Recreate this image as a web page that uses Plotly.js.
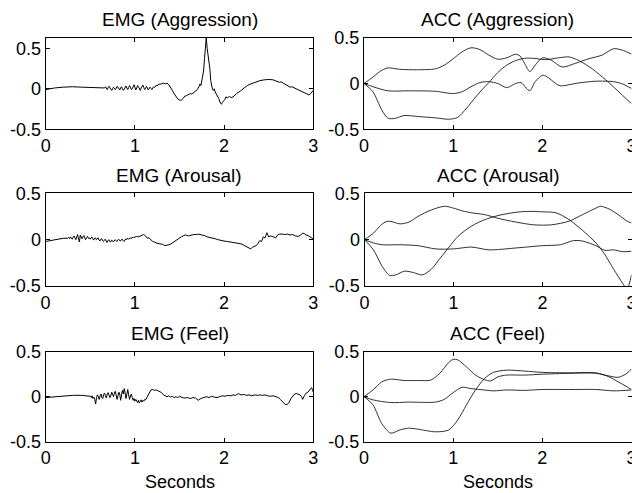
<!DOCTYPE html>
<html><head><meta charset="utf-8">
<script src="https://cdn.plot.ly/plotly-3.0.1.min.js"></script>
<style>html,body{margin:0;padding:0;background:#fff}#chart{width:632px;height:493px}</style>
</head><body><div id="chart"></div>
<script>
// ---------------- DATA ----------------
const xTicks = [0, 1, 2, 3];
const yTickVals = [-0.5, 0, 0.5];
const yTickText = ['-0.5', '0', '0.5'];
const panelTitles = ['EMG (Aggression)', 'ACC (Aggression)', 'EMG (Arousal)', 'ACC (Arousal)', 'EMG (Feel)', 'ACC (Feel)'];
const xLabel = 'Seconds';

// EMG (Aggression)
const emgAggT = [0,0.05,0.1,0.2,0.3,0.4,0.5,0.6,0.65,
0.66,0.67,0.68,0.69,0.70,0.71,0.72,0.73,0.74,0.75,0.76,0.77,0.78,0.79,0.80,0.81,0.82,0.83,0.84,0.85,0.86,0.87,0.88,0.89,0.90,0.91,0.92,0.93,0.94,0.95,0.96,0.97,0.98,0.99,1.00,1.01,1.02,1.03,1.04,1.05,1.06,1.07,1.08,1.09,1.10,1.11,1.12,1.13,1.14,1.15,1.16,1.17,1.18,1.19,1.20,1.21,1.22,1.23,1.24,1.25,1.26,1.27,1.28,
1.30,1.32,1.34,1.36,1.38,1.40,1.42,1.44,1.46,1.48,1.50,1.52,1.54,1.56,1.58,1.60,1.62,1.64,1.66,1.68,1.70,1.72,1.73,1.74,1.75,1.76,1.77,1.78,1.79,1.80,1.81,1.82,1.83,1.84,1.85,1.86,1.87,1.88,1.89,1.90,1.92,1.94,1.96,1.97,1.98,2.00,2.01,2.02,2.04,2.06,2.08,2.10,2.12,2.14,2.18,2.22,2.26,2.30,2.35,2.40,2.45,2.50,2.55,2.60,2.62,2.64,2.66,2.68,2.70,2.72,2.74,2.76,2.80,2.84,2.88,2.92,2.95,2.97,3.0];
const emgAggY = [-0.01,0.0,0.01,0.02,0.025,0.02,0.015,0.012,0.01,
0.01,0.025,0.005,-0.01,0.015,0.03,0.01,-0.005,-0.02,0.0,
0.02,0.01,-0.01,0.005,0.03,0.02,-0.005,-0.015,0.01,0.025,
0.0,-0.02,-0.005,0.02,0.035,0.01,-0.01,0.015,0.04,0.02,
-0.01,0.0,0.03,0.05,0.02,-0.015,0.01,0.04,0.025,-0.005,
-0.02,0.01,0.035,0.045,0.015,-0.01,0.005,0.03,0.01,-0.015,
0.0,0.02,0.005,-0.01,0.01,0.025,0.015,0.03,0.045,0.035,
0.05,0.06,0.055,
0.065,0.07,0.06,0.07,0.05,0.02,-0.02,-0.06,-0.1,-0.125,-0.14,-0.14,-0.12,-0.09,-0.085,-0.07,-0.06,-0.065,-0.045,-0.03,-0.01,0.03,0.06,0.04,0.1,0.14,0.22,0.37,0.52,0.63,0.5,0.42,0.39,0.25,0.1,0.03,-0.01,-0.02,0.0,-0.04,-0.08,-0.12,-0.18,-0.19,-0.17,-0.145,-0.13,-0.1,-0.11,-0.095,-0.11,-0.1,-0.075,-0.06,-0.03,0.01,0.04,0.06,0.08,0.1,0.11,0.115,0.11,0.09,0.08,0.085,0.07,0.06,0.05,0.03,0.02,0.025,0.005,-0.015,-0.035,-0.06,-0.075,-0.06,-0.02];

// EMG (Arousal)
const emgAroT = [0,0.03,0.06,0.1,0.15,0.2,0.24,
0.25,0.26,0.27,0.28,0.29,0.30,0.31,0.32,0.33,0.34,0.35,0.36,0.37,0.38,0.39,0.40,0.41,0.42,0.43,0.44,0.45,0.46,0.47,0.48,0.49,0.50,0.51,0.52,0.53,0.54,0.55,0.56,0.57,0.58,0.59,0.60,0.61,0.62,0.63,0.64,0.65,0.66,0.67,0.68,0.69,0.70,0.71,0.72,0.73,0.74,0.75,0.76,0.77,0.78,0.79,0.80,0.81,0.82,0.83,0.84,0.85,0.86,0.87,0.88,0.89,0.90,0.91,0.92,0.93,0.94,0.95,0.96,0.97,0.98,0.99,1.00,
1.02,1.04,1.06,1.08,1.10,1.12,1.14,1.16,1.18,1.20,1.22,1.25,1.28,1.31,1.34,1.36,1.38,1.40,1.43,1.46,1.49,1.52,1.55,1.57,1.60,1.63,1.66,1.69,1.72,1.75,1.78,1.81,1.84,1.87,1.90,1.93,1.96,2.0,2.04,2.08,2.12,2.16,2.19,2.22,2.25,2.28,2.30,2.32,2.34,2.36,2.38,2.40,2.42,2.44,2.46,2.48,2.50,2.52,2.54,2.56,2.58,2.60,2.62,2.65,2.68,2.71,2.74,2.77,2.80,2.83,2.86,2.88,2.90,2.92,2.95,2.98,3.0];
const emgAroY = [-0.02,-0.015,-0.005,0.0,0.01,0.015,0.015,
0.015,0.025,0.01,0.03,0.02,0.005,0.025,0.04,0.02,0.0,
0.03,0.055,0.01,-0.025,0.05,0.035,0.01,0.03,0.045,0.02,
0.0,0.025,0.035,0.015,0.02,0.005,0.025,0.03,0.01,-0.005,
0.015,0.02,0.0,0.01,0.02,-0.005,-0.015,0.005,0.01,-0.01,
-0.02,-0.005,0.005,-0.015,-0.03,-0.01,0.0,-0.02,-0.025,-0.005,
-0.01,-0.025,-0.015,0.0,-0.01,-0.02,-0.005,0.005,-0.01,-0.015,
0.0,0.005,-0.01,-0.02,-0.005,0.01,0.0,0.015,0.005,0.01,
0.02,0.01,0.025,0.02,0.03,0.025,
0.035,0.03,0.04,0.045,0.055,0.04,0.015,0.02,0.0,-0.02,-0.025,-0.04,-0.045,-0.05,-0.065,-0.06,-0.055,-0.05,-0.03,-0.01,0.015,0.03,0.045,0.05,0.04,0.05,0.055,0.055,0.06,0.05,0.045,0.03,0.025,0.015,0.01,0.0,-0.01,-0.015,-0.02,-0.025,-0.03,-0.04,-0.045,-0.06,-0.075,-0.09,-0.1,-0.08,-0.075,-0.065,-0.04,-0.01,-0.02,0.03,0.02,0.075,0.03,0.04,0.035,0.025,0.02,0.05,0.06,0.06,0.055,0.06,0.05,0.055,0.04,0.035,0.05,0.07,0.065,0.05,0.04,0.02,0.005];

// EMG (Feel)
const emgFeelT = [0,0.05,0.1,0.2,0.3,0.4,0.45,0.48,
0.50,0.51,0.52,0.53,0.54,0.55,0.56,0.57,0.58,0.59,0.60,0.61,0.62,0.63,0.64,0.65,0.66,0.67,0.68,0.69,0.70,0.71,0.72,0.73,0.74,0.75,0.76,0.77,0.78,0.79,0.80,0.81,0.82,0.83,0.84,0.85,0.86,0.87,0.88,0.89,0.90,0.91,0.92,0.93,0.94,0.95,0.96,0.97,0.98,0.99,1.00,1.01,1.02,1.03,1.04,1.05,1.06,1.07,1.08,1.09,1.10,1.11,1.12,1.13,1.14,
1.16,1.18,1.20,1.22,1.24,1.26,1.28,1.30,1.32,1.34,1.36,1.38,1.40,1.42,1.44,1.46,1.48,1.50,1.53,1.56,1.59,1.62,1.65,1.68,1.71,1.74,1.77,1.80,1.83,1.86,1.89,1.92,1.95,1.98,2.01,2.04,2.07,2.10,2.13,2.16,2.19,2.22,2.25,2.28,2.31,2.34,2.37,2.40,2.43,2.46,2.49,2.52,2.55,2.58,2.61,2.63,2.65,2.67,2.69,2.71,2.73,2.75,2.77,2.79,2.81,2.83,2.85,2.87,2.88,2.90,2.92,2.94,2.96,2.98,2.99,3.0];
const emgFeelY = [-0.01,-0.005,0.0,0.01,0.015,0.015,0.012,0.01,
0.005,-0.01,0.01,-0.02,-0.005,-0.03,-0.08,-0.01,0.02,0.0,
-0.03,0.01,0.03,-0.01,-0.02,0.025,0.04,0.01,-0.015,0.03,
0.045,0.02,-0.01,0.01,0.05,0.03,0.0,0.04,0.06,0.02,
-0.03,0.01,0.05,0.03,-0.04,0.02,0.07,0.03,0.09,0.04,
-0.02,0.03,0.08,0.02,-0.03,0.01,0.03,-0.01,-0.04,-0.02,
-0.05,-0.03,-0.045,-0.065,-0.04,-0.07,-0.05,-0.035,-0.06,-0.04,
-0.05,-0.03,-0.035,-0.015,0.0,
0.04,0.075,0.08,0.07,0.075,0.065,0.06,0.045,0.02,0.005,0.0,0.01,-0.005,0.005,-0.01,0.0,-0.01,0.005,-0.01,-0.015,-0.01,-0.02,-0.01,-0.015,-0.04,-0.02,-0.01,0.0,-0.01,0.005,-0.005,-0.01,0.0,0.01,0.005,0.015,0.01,0.02,0.015,0.035,0.02,0.025,0.015,0.02,0.01,0.02,0.015,0.02,0.015,0.02,0.01,0.005,0.01,0.0,-0.01,-0.03,-0.05,-0.075,-0.09,-0.085,-0.06,-0.02,0.01,0.03,0.035,0.03,0.02,0.0,-0.03,0.01,0.04,0.05,0.07,0.1,0.08,0.05];

// ACC (Aggression) - three axes
const accAggAT = [0,0.1,0.2,0.27,0.4,0.6,0.8,0.9,1.0,1.1,1.2,1.3,1.4,1.5,1.6,1.7,1.75,1.8,1.86,1.92,2.0,2.1,2.22,2.37,2.52,2.67,2.8,2.91,3.0];
const accAggAY = [0,0.07,0.145,0.17,0.155,0.15,0.16,0.2,0.27,0.345,0.39,0.37,0.31,0.265,0.28,0.32,0.3,0.22,0.13,0.2,0.28,0.255,0.18,0.22,0.27,0.31,0.38,0.36,0.32];
const accAggBT = [0,0.1,0.27,0.5,0.8,1.0,1.1,1.2,1.3,1.4,1.5,1.6,1.7,1.76,1.82,1.86,1.92,2.0,2.05,2.15,2.2,2.4,2.6,2.8,2.9,3.0];
const accAggBY = [0,-0.035,-0.08,-0.08,-0.085,-0.11,-0.09,-0.035,0.01,0.02,0.0,-0.045,0.0,0.01,-0.05,-0.08,0.02,0.09,0.075,0.0,-0.025,0.005,0.025,0.02,-0.005,-0.055];
const accAggCT = [0,0.1,0.2,0.27,0.35,0.45,0.6,0.8,0.95,1.05,1.15,1.25,1.35,1.4,1.5,1.6,1.7,1.8,1.9,2.04,2.18,2.3,2.41,2.56,2.71,2.78,2.9,3.0];
const accAggCY = [0,-0.09,-0.29,-0.38,-0.38,-0.35,-0.36,-0.375,-0.39,-0.37,-0.27,-0.15,-0.04,0.01,0.12,0.2,0.25,0.275,0.275,0.26,0.28,0.29,0.25,0.16,0.04,-0.02,-0.13,-0.22];

// ACC (Arousal)
const accAroAT = [0,0.1,0.2,0.27,0.4,0.5,0.6,0.75,0.9,1.0,1.1,1.2,1.35,1.5,1.7,1.9,2.1,2.3,2.45,2.6,2.65,2.75,2.85,2.95,3.0];
const accAroAY = [0,0.07,0.17,0.2,0.17,0.19,0.25,0.32,0.36,0.34,0.31,0.29,0.27,0.23,0.19,0.16,0.16,0.2,0.27,0.34,0.36,0.33,0.27,0.2,0.18];
const accAroBT = [0,0.1,0.2,0.4,0.6,0.8,1.0,1.2,1.4,1.7,2.0,2.2,2.35,2.45,2.6,2.7,2.8,2.9,3.0];
const accAroBY = [0,-0.035,-0.055,-0.055,-0.065,-0.1,-0.1,-0.08,-0.11,-0.09,-0.065,-0.055,-0.01,-0.015,-0.065,-0.115,-0.11,-0.13,-0.125];
const accAroCT = [0,0.1,0.2,0.28,0.35,0.45,0.55,0.65,0.75,0.85,0.95,1.05,1.2,1.35,1.5,1.7,1.85,2.0,2.15,2.3,2.45,2.6,2.7,2.8,2.9,2.95,3.0];
const accAroCY = [0,-0.11,-0.29,-0.385,-0.38,-0.34,-0.355,-0.38,-0.32,-0.2,-0.08,0.035,0.145,0.215,0.26,0.295,0.305,0.3,0.29,0.215,0.1,-0.035,-0.16,-0.32,-0.47,-0.53,-0.38];

// ACC (Feel)
const accFeelAT = [0,0.1,0.2,0.3,0.45,0.6,0.75,0.85,0.95,1.0,1.05,1.15,1.25,1.35,1.42,1.5,1.6,1.8,2.0,2.3,2.6,2.75,2.85,2.95,3.0];
const accFeelAY = [0,0.075,0.165,0.195,0.18,0.18,0.185,0.26,0.38,0.415,0.41,0.33,0.24,0.19,0.175,0.22,0.24,0.24,0.25,0.26,0.26,0.23,0.215,0.26,0.31];
const accFeelBT = [0,0.1,0.3,0.5,0.8,0.9,1.0,1.1,1.2,1.3,1.45,1.6,1.8,2.0,2.3,2.6,2.8,3.0];
const accFeelBY = [0,-0.035,-0.065,-0.06,-0.06,-0.03,0.045,0.105,0.09,0.08,0.065,0.075,0.07,0.08,0.08,0.08,0.065,0.075];
const accFeelCT = [0,0.1,0.2,0.3,0.4,0.5,0.6,0.8,0.95,1.05,1.15,1.25,1.35,1.45,1.6,1.8,2.0,2.3,2.6,2.75,2.85,2.95,3.0];
const accFeelCY = [0,-0.09,-0.3,-0.405,-0.37,-0.35,-0.36,-0.39,-0.37,-0.26,-0.09,0.075,0.2,0.27,0.295,0.285,0.27,0.265,0.265,0.22,0.165,0.11,0.08];

// ---------------- CHART ----------------
const W = 632, H = 493;
const FONT = 'Liberation Sans, Arial, Helvetica, sans-serif';
// pixel boxes [left, right, top, bottom]
const boxes = [
  [45.7, 313.3, 37.7, 129.3], [364, 631.5, 37.7, 129.3],
  [45.5, 313.3, 193.3, 286],  [364.5, 631.5, 193.3, 286],
  [45.7, 313.3, 351.7, 441.7], [364, 631.5, 351.7, 441.7]
];
const yRanges = [[-0.5, 0.63], [-0.5, 0.5], [-0.5, 0.5], [-0.5, 0.5], [-0.5, 0.5], [-0.5, 0.5]];

const emgLine = {color: '#000', width: 1};
const accLine = {color: '#1a1a1a', width: 0.9, shape: 'spline', smoothing: 0.8};
function tr(x, y, i, line) {
  const s = i === 0 ? '' : String(i + 1);
  return {x: x, y: y, xaxis: 'x' + s, yaxis: 'y' + s, type: 'scatter', mode: 'lines', line: line, hoverinfo: 'skip'};
}
const traces = [
  tr(emgAggT, emgAggY, 0, emgLine),
  tr(accAggAT, accAggAY, 1, accLine), tr(accAggBT, accAggBY, 1, accLine), tr(accAggCT, accAggCY, 1, accLine),
  tr(emgAroT, emgAroY, 2, emgLine),
  tr(accAroAT, accAroAY, 3, accLine), tr(accAroBT, accAroBY, 3, accLine), tr(accAroCT, accAroCY, 3, accLine),
  tr(emgFeelT, emgFeelY, 4, emgLine),
  tr(accFeelAT, accFeelAY, 5, accLine), tr(accFeelBT, accFeelBY, 5, accLine), tr(accFeelCT, accFeelCY, 5, accLine)
];

const layout = {
  width: W, height: H, margin: {l: 0, r: 0, t: 0, b: 0},
  paper_bgcolor: '#fff', plot_bgcolor: '#fff', showlegend: false,
  font: {family: FONT, size: 18, color: '#000'},
  annotations: []
};
const common = {
  showline: true, linecolor: '#000', linewidth: 1, mirror: 'ticks',
  ticks: 'inside', ticklen: 4, tickwidth: 1, tickcolor: '#000',
  showgrid: false, zeroline: false, fixedrange: true,
  ticklabeloverflow: 'allow',
  tickfont: {family: FONT, size: 18, color: '#000'}
};
boxes.forEach((b, i) => {
  const s = i === 0 ? '' : String(i + 1);
  layout['xaxis' + s] = Object.assign({}, common, {
    domain: [b[0] / W, b[1] / W], anchor: 'y' + s, range: [0, 3],
    tickvals: xTicks, ticktext: xTicks.map(String)
  });
  layout['yaxis' + s] = Object.assign({}, common, {
    domain: [1 - b[3] / H, 1 - b[2] / H], anchor: 'x' + s, range: yRanges[i],
    tickvals: yTickVals, ticktext: yTickText
  });
  layout.annotations.push({
    text: panelTitles[i], xref: 'paper', yref: 'paper',
    x: (b[0] + b[1]) / 2 / W, y: 1 - (b[2] - 18) / H,
    xanchor: 'center', yanchor: 'middle', showarrow: false,
    font: {family: FONT, size: 19, color: '#000'}
  });
});
[0, 1].forEach(c => {
  const b = boxes[4 + c];
  layout.annotations.push({
    text: xLabel, xref: 'paper', yref: 'paper',
    x: (b[0] + b[1]) / 2 / W, y: 1 - 481.5 / H,
    xanchor: 'center', yanchor: 'middle', showarrow: false,
    font: {family: FONT, size: 18, color: '#000'}
  });
});

Plotly.newPlot('chart', traces, layout, {staticPlot: true, displayModeBar: false});
</script>
</body></html>
